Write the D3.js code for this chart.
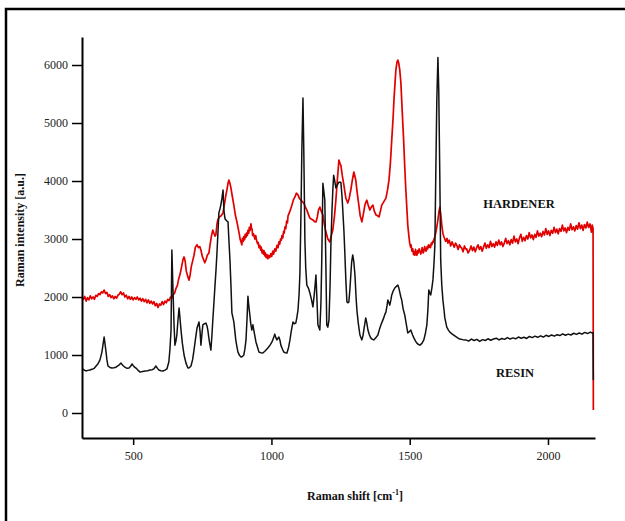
<!DOCTYPE html>
<html>
<head>
<meta charset="utf-8">
<script src="https://cdn.jsdelivr.net/npm/d3@7"></script>
<style>
  html, body { margin: 0; padding: 0; background: #fff; }
  svg { display: block; }
  text { font-family: "Liberation Serif", "Times New Roman", serif; }
</style>
</head>
<body>
<svg id="chart" width="625" height="521"></svg>
<script>
// ---------- data (Raman shift [cm-1], intensity [a.u.]) ----------
const xMajorTicks = [500, 1000, 1500, 2000];
const xMinorTicks = [400, 600, 700, 800, 900, 1100, 1200, 1300, 1400, 1600, 1700, 1800, 1900, 2100];
const yMajorTicks = [0, 1000, 2000, 3000, 4000, 5000, 6000];
const yMinorTicks = [-400, -200, 200, 400, 600, 800, 1200, 1400, 1600, 1800, 2200, 2400, 2600, 2800,
  3200, 3400, 3600, 3800, 4200, 4400, 4600, 4800, 5200, 5400, 5600, 5800, 6200, 6400];

const seriesNames = ["HARDENER", "RESIN"];

const resinData = [
[315,760],[322,745],[329,725],[336,735],[344,740],[350,755],[355,760],[360,775],[366,810],[373,850],[380,915],[387,1050],[391,1180],[395,1310],[398,1200],[402,1050],[405,920],[409,810],[416,785],[423,776],[430,780],[438,790],[447,820],[456,860],[463,820],[470,790],[478,770],[485,775],[490,800],[496,845],[503,800],[510,775],[517,740],[525,705],[534,715],[543,725],[552,730],[561,740],[568,745],[575,760],[582,810],[588,770],[593,740],[600,730],[608,725],[615,740],[622,760],[629,880],[633,1100],[637,1430],[640,2810],[644,2120],[648,1500],[651,1170],[655,1250],[658,1345],[662,1600],[666,1810],[670,1600],[673,1430],[678,1200],[684,1000],[691,860],[698,775],[703,780],[709,810],[715,920],[720,1085],[726,1300],[731,1465],[738,1570],[742,1400],[745,1170],[749,1380],[752,1520],[758,1540],[763,1550],[767,1500],[770,1430],[775,1250],[781,1085],[785,1350],[788,1600],[792,1900],[796,2205],[800,2500],[803,2760],[807,3150],[810,3450],[814,3520],[817,3585],[821,3700],[825,3845],[828,3500],[832,3350],[835,3330],[839,3310],[843,3295],[846,3000],[850,2640],[854,2150],[857,1725],[861,1640],[864,1570],[868,1400],[871,1260],[875,1150],[879,1050],[885,990],[890,965],[895,975],[900,1000],[904,1100],[908,1260],[912,1650],[915,2015],[918,1850],[922,1690],[925,1550],[929,1430],[933,1520],[938,1380],[944,1225],[950,1130],[955,1050],[962,1040],[969,1035],[977,1070],[987,1120],[995,1170],[1002,1225],[1008,1300],[1012,1360],[1016,1300],[1020,1260],[1024,1290],[1027,1310],[1031,1250],[1034,1170],[1040,1100],[1045,1050],[1050,1040],[1056,1035],[1062,1130],[1067,1260],[1072,1420],[1078,1570],[1083,1540],[1088,1550],[1092,1650],[1096,1775],[1100,2050],[1103,2415],[1107,3500],[1110,4535],[1114,5430],[1117,4535],[1121,2980],[1124,2500],[1128,2205],[1134,2150],[1139,2070],[1145,1950],[1150,1830],[1155,2050],[1161,2380],[1165,1900],[1168,1520],[1172,1470],[1175,1430],[1179,1900],[1182,2640],[1186,3960],[1190,3800],[1193,3670],[1197,2500],[1200,1520],[1204,1480],[1208,1600],[1212,2200],[1215,2900],[1219,3500],[1222,3845],[1225,4100],[1229,4000],[1233,3880],[1238,3930],[1244,3980],[1251,3980],[1255,3750],[1258,3500],[1262,3150],[1265,2810],[1269,2300],[1273,1915],[1277,1900],[1280,1915],[1284,2150],[1287,2380],[1290,2600],[1294,2725],[1298,2600],[1302,2380],[1306,2000],[1309,1775],[1314,1550],[1320,1345],[1327,1260],[1331,1330],[1334,1430],[1338,1550],[1341,1640],[1345,1550],[1349,1430],[1354,1350],[1359,1295],[1365,1270],[1370,1260],[1378,1300],[1385,1345],[1391,1450],[1396,1520],[1401,1580],[1406,1640],[1410,1700],[1414,1740],[1418,1850],[1421,1950],[1425,1900],[1428,1860],[1432,1950],[1435,2035],[1440,2100],[1446,2155],[1451,2180],[1457,2205],[1461,2150],[1464,2085],[1468,2000],[1471,1950],[1476,1800],[1482,1690],[1487,1550],[1493,1380],[1498,1400],[1504,1430],[1510,1350],[1515,1295],[1521,1240],[1526,1205],[1532,1180],[1537,1170],[1544,1200],[1551,1260],[1557,1380],[1562,1520],[1566,1800],[1569,2120],[1573,2060],[1576,2035],[1580,2150],[1584,2295],[1588,2600],[1591,2895],[1594,4015],[1598,5395],[1602,6130],[1605,5570],[1609,4015],[1612,2640],[1616,2200],[1620,1950],[1624,1780],[1627,1640],[1631,1550],[1634,1480],[1640,1430],[1645,1395],[1654,1360],[1663,1330],[1672,1300],[1681,1275],[1692,1265],
[1703,1260],[1713,1240],[1723,1275],[1733,1250],[1743,1270],[1753,1235],[1763,1265],[1773,1250],[1783,1280],[1793,1255],[1803,1275],[1813,1290],[1823,1260],[1833,1285],[1843,1270],[1853,1300],[1863,1275],[1873,1295],[1883,1280],[1893,1310],[1903,1290],[1913,1305],[1923,1285],[1933,1320],[1943,1300],[1953,1325],[1963,1305],[1973,1330],[1983,1310],[1993,1340],[2003,1320],[2013,1345],[2023,1325],[2033,1350],[2043,1335],[2053,1365],[2063,1340],[2073,1360],[2083,1345],[2093,1375],[2103,1355],[2113,1380],[2123,1360],[2133,1390],[2143,1370],[2153,1395],[2160,1380],[2163,1385],[2164,570]
];

const hardenerData = [
[315,2000],[320,1960],[325,2010],[330,1930],[335,1990],[340,1950],[345,2020],[350,1970],[355,2000],[360,1960],[365,2030],[370,2010],[375,2060],[380,2040],[385,2090],[390,2070],[395,2120],[400,2060],[405,2080],[410,2010],[415,2040],[420,1990],[425,2020],[430,1970],[435,2010],[440,1980],[445,2030],[450,2050],[455,2090],[460,2040],[465,2070],[470,2000],[475,2030],[480,1970],[485,2010],[490,1960],[495,2000],[500,1950],[505,1990],[510,1960],[515,2000],[520,1950],[525,1980],[530,1930],[535,1970],[540,1920],[545,1960],[550,1900],[555,1950],[560,1890],[565,1930],[570,1880],[575,1920],[580,1850],[585,1890],[590,1820],[595,1880],[600,1860],[605,1920],[610,1870],[615,1930],[620,1900],[625,1960],[630,1940],[635,2000],[640,1980],[645,2040],[650,2070],[655,2150],[660,2200],[665,2320],[670,2400],[675,2520],[680,2640],[684,2690],[688,2620],[692,2450],[697,2360],[702,2290],[706,2380],[710,2520],[716,2640],[720,2720],[725,2860],[731,2900],[736,2850],[741,2870],[745,2810],[750,2700],[755,2640],[759,2590],[764,2650],[768,2720],[774,2760],[778,2900],[783,3050],[788,3155],[792,3100],[796,3050],[799,3070],[803,3250],[806,3330],[812,3380],[818,3400],[825,3450],[830,3600],[835,3750],[839,3845],[843,3960],[846,4015],[850,3960],[853,3895],[858,3750],[864,3585],[870,3400],[875,3300],[879,3205],
[884,3080],[887,2990],[890,2950],[893,2900],[895,3010],[898,2960],[900,3040],[903,2990],[905,3080],[908,3030],[910,3100],[913,3060],[915,3150],[918,3100],[920,3200],[923,3150],[926,3260],[928,3180],[930,3170],[932,3060],[935,3090],[940,3000],[943,3060],[947,2960],[950,2920],[952,2940],[955,2850],[958,2890],[961,2810],[963,2860],[966,2760],[968,2810],[971,2740],[973,2800],[976,2710],[978,2760],[981,2680],[984,2730],[987,2660],[990,2720],[994,2680],[998,2750],[1001,2700],[1005,2790],[1008,2740],[1012,2830],[1016,2790],[1020,2890],[1024,2850],[1027,2950],[1030,2910],[1033,3000],[1036,2980],[1038,3060],[1041,3020],[1044,3130],[1046,3100],[1049,3210],[1052,3180],[1055,3310],[1058,3280],[1060,3400],
[1067,3480],[1074,3585],[1080,3680],[1085,3725],[1090,3790],[1096,3760],[1101,3700],[1107,3670],[1112,3640],[1117,3620],[1122,3560],[1128,3500],[1134,3420],[1139,3360],[1145,3340],[1150,3330],[1156,3300],[1161,3295],[1166,3380],[1170,3500],[1175,3550],[1180,3480],[1186,3415],[1191,3260],[1197,3120],[1204,3000],[1211,2950],[1216,3050],[1222,3155],[1228,3400],[1233,3670],[1238,4000],[1244,4360],[1248,4300],[1251,4275],[1256,4100],[1262,3930],[1266,3800],[1269,3705],[1273,3660],[1276,3620],[1281,3700],[1287,3845],[1292,4000],[1298,4155],[1301,4100],[1305,4015],[1310,3800],[1316,3585],[1321,3400],[1327,3295],[1332,3420],[1338,3585],[1342,3640],[1345,3670],[1350,3580],[1356,3500],[1362,3560],[1367,3585],[1372,3480],[1378,3415],[1384,3400],[1389,3380],[1394,3480],[1399,3585],[1406,3640],[1414,3705],[1420,3850],[1425,4015],[1430,4300],[1435,4705],[1440,5100],[1443,5395],[1447,5700],[1450,5915],[1454,6050],[1457,6085],[1460,6040],[1464,5915],[1468,5700],[1471,5395],[1475,5000],[1478,4705],[1482,4250],[1486,3845],[1490,3500],[1493,3240],[1497,3050],
[1500,2930],[1503,2860],[1505,2900],[1508,2790],[1511,2830],[1514,2730],[1516,2780],[1519,2720],[1521,2820],[1524,2740],[1526,2720],[1529,2800],[1531,2760],[1534,2830],[1537,2790],[1540,2740],[1542,2770],[1545,2850],[1547,2800],[1549,2760],[1551,2790],[1554,2870],[1556,2830],[1559,2790],[1561,2820],[1563,2870],[1565,2830],[1568,2900],[1570,2860],[1573,2890],[1575,2850],[1578,2930],[1580,2900],[1583,2960],[1585,2940],[1588,3000],[1591,3035],[1596,3150],[1602,3330],[1606,3480],[1609,3550],[1613,3400],[1616,3240],[1620,3100],[1624,3035],[1630,2960],[1635,3010],[1638,2930],[1643,2980],[1648,2880],[1653,2950],[1656,2915],[1661,2860],[1666,2930],[1670,2895],[1675,2820],[1680,2900],[1684,2860],[1688,2845],[1693,2780],[1698,2880],[1702,2830],[1706,2830],[1711,2760],[1717,2810],
[1722,2880],[1727,2800],[1732,2860],[1737,2780],[1742,2850],[1747,2900],[1752,2820],[1757,2870],[1762,2790],[1767,2860],[1772,2930],[1777,2840],[1782,2900],[1787,2850],[1792,2960],[1797,2870],[1802,2920],[1807,2860],[1812,2950],[1817,2890],[1822,2980],[1827,2900],[1832,2950],[1837,2870],[1842,2930],[1847,3010],[1852,2920],[1857,2970],[1862,2900],[1867,2990],[1872,2930],[1877,3050],[1882,2950],[1887,3000],[1892,2920],[1897,3020],[1902,3080],[1907,2960],[1912,3030],[1917,2970],[1922,3060],[1927,3000],[1932,3110],[1937,3020],[1942,3070],[1947,2990],[1952,3080],[1957,3030],[1962,3140],[1967,3050],[1972,3100],[1977,3040],[1982,3130],[1987,3070],[1992,3180],[1997,3080],[2002,3140],[2007,3060],[2012,3150],[2017,3100],[2022,3200],[2027,3110],[2032,3170],[2037,3090],[2042,3180],[2047,3130],[2052,3240],[2057,3140],[2062,3190],[2067,3110],[2072,3200],[2077,3150],[2082,3260],[2087,3160],[2092,3210],[2097,3140],[2102,3230],[2107,3170],[2112,3280],[2117,3180],[2122,3240],[2127,3150],[2132,3250],[2137,3190],[2142,3290],[2147,3200],[2152,3260],[2157,3120],[2160,3240],[2163,3180],[2164,50]
];

// ---------- drawing ----------
const svg = d3.select("#chart");

// outer frame (left + top edges visible)
svg.append("path")
  .attr("d", "M6,521 L6,9 L625,9")
  .attr("fill", "none").attr("stroke", "#000").attr("stroke-width", 2.5);

const plot = { left: 82, right: 595, top: 37, bottom: 438 };

const x = d3.scaleLinear().domain([315, 2170]).range([plot.left, plot.right]);
const y = d3.scaleLinear().domain([-431, 6483]).range([plot.bottom, plot.top]);

const line = d3.line().x(d => x(d[0])).y(d => y(d[1]));

svg.append("path").datum(hardenerData)
  .attr("d", line).attr("fill", "none")
  .attr("stroke", "#e10000").attr("stroke-width", 1.7).attr("stroke-linejoin", "round");

svg.append("path").datum(resinData)
  .attr("d", line).attr("fill", "none")
  .attr("stroke", "#111").attr("stroke-width", 1.5).attr("stroke-linejoin", "round");

// axes
const gx = svg.append("g").attr("transform", `translate(0,${plot.bottom})`);
gx.call(d3.axisBottom(x).tickValues(xMinorTicks).tickSize(4).tickSizeOuter(0).tickFormat(""));
gx.call(d3.axisBottom(x).tickValues(xMajorTicks).tickSize(7).tickSizeOuter(0).tickPadding(6).tickFormat(d3.format("d")));

const gy = svg.append("g").attr("transform", `translate(${plot.left},0)`);
gy.call(d3.axisLeft(y).tickValues(yMinorTicks).tickSize(6).tickSizeOuter(0).tickFormat(""));
gy.call(d3.axisLeft(y).tickValues(yMajorTicks).tickSize(10).tickSizeOuter(0).tickPadding(4).tickFormat(d3.format("d")));

svg.selectAll(".domain").attr("stroke", "#000").attr("stroke-width", 2);
svg.selectAll(".tick line").attr("stroke", "#000").attr("stroke-width", 1.5);
svg.selectAll(".tick text")
  .attr("font-family", "'Liberation Serif', 'Times New Roman', serif")
  .attr("font-size", 12).attr("fill", "#222");

// axis titles
svg.append("text")
  .attr("transform", "translate(24,230) rotate(-90)")
  .attr("text-anchor", "middle")
  .attr("font-size", 12).attr("font-weight", "bold").attr("fill", "#111")
  .text("Raman intensity [a.u.]");

const xt = svg.append("text")
  .attr("x", 355).attr("y", 500)
  .attr("text-anchor", "middle")
  .attr("font-size", 12).attr("font-weight", "bold").attr("fill", "#111");
xt.append("tspan").text("Raman shift [cm");
xt.append("tspan").attr("dy", -5).attr("font-size", 8).text("-1");
xt.append("tspan").attr("dy", 5).text("]");

// series labels
svg.append("text").attr("x", 519).attr("y", 208).attr("text-anchor", "middle")
  .attr("font-size", 12.5).attr("font-weight", "bold").attr("fill", "#111").text(seriesNames[0]);
svg.append("text").attr("x", 515).attr("y", 377).attr("text-anchor", "middle")
  .attr("font-size", 12.5).attr("font-weight", "bold").attr("fill", "#111").text(seriesNames[1]);
</script>
</body>
</html>
